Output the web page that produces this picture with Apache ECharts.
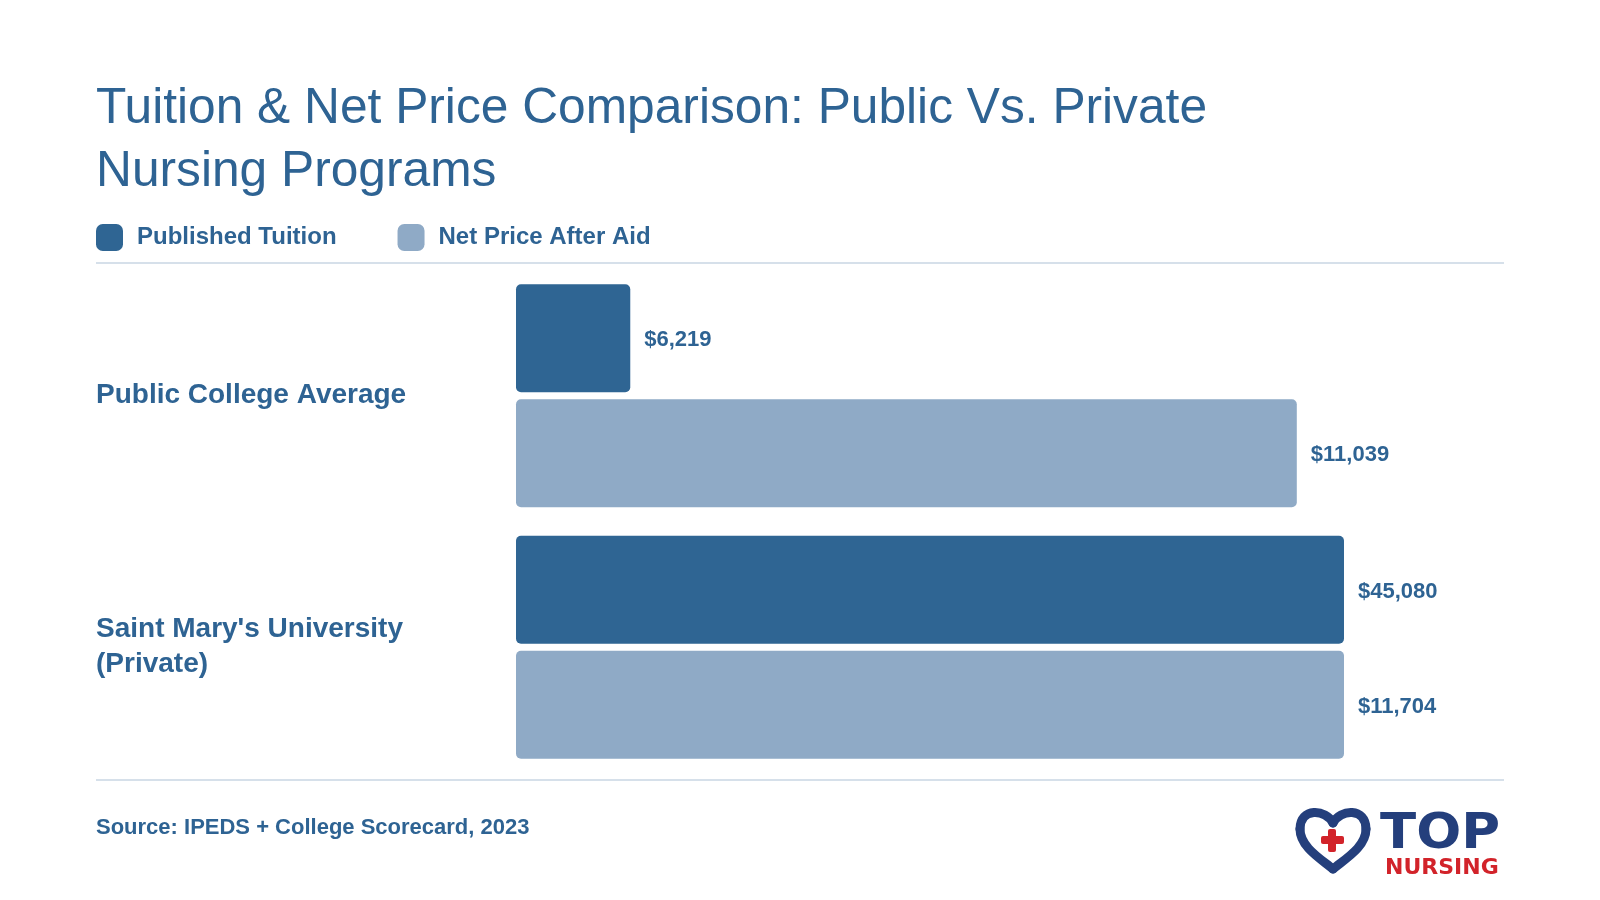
<!DOCTYPE html>
<html>
<head>
<meta charset="utf-8">
<script src="https://cdn.jsdelivr.net/npm/echarts@6/dist/echarts.min.js"></script>
<style>
  html, body { margin: 0; padding: 0; background: #fff; }
  #chart { width: 1600px; height: 900px; }
</style>
</head>
<body>
<div id="chart"></div>
<script>
// categories, top to bottom
var categories = ['Public College Average', "Saint Mary's University\n(Private)"];
// dollar values printed next to the bars
var tuitionValues = [6219, 45080];
var netPriceValues = [11039, 11704];
// bar lengths as drawn in the source graphic (share of the bar track, %)
var tuitionBarPct = [13.8, 100];
var netPriceBarPct = [94.3, 100];
var seriesNames = ['Published Tuition', 'Net Price After Aid'];

var textColor = '#2E6393';
var ruleColor = '#D6E0EA';
var logoBlue = '#243F7C';
var logoRed = '#D2232A';
var font = '"Liberation Sans", Arial, Helvetica, sans-serif';

function money(v) {
    return '$' + v.toLocaleString('en-US');
}

// heart outline for the logo, built from bezier curves
function heartCurve(ox, oy, p) {
    return {
        type: 'bezierCurve',
        shape: {
            x1: ox + p[0], y1: oy + p[1],
            cpx1: ox + p[2], cpy1: oy + p[3],
            cpx2: ox + p[4], cpy2: oy + p[5],
            x2: ox + p[6], y2: oy + p[7]
        },
        style: { stroke: logoBlue, lineWidth: 9, fill: null, lineCap: 'round' }
    };
}

var chart = echarts.init(document.getElementById('chart'));

var option = {
    backgroundColor: '#fff',
    animation: false,
    color: ['#2F6593', '#8FAAC6'],
    title: {
        text: 'Tuition & Net Price Comparison: Public Vs. Private\nNursing Programs',
        left: 91,
        top: 73,
        textStyle: {
            color: textColor,
            fontFamily: font,
            fontWeight: 'normal',
            fontSize: 49.7,
            lineHeight: 63
        }
    },
    legend: {
        left: 96,
        top: 224,
        padding: 0,
        icon: 'roundRect',
        itemWidth: 27,
        itemHeight: 27,
        itemGap: 61,
        textStyle: {
            color: textColor,
            fontFamily: font,
            fontWeight: 'bold',
            fontSize: 24,
            padding: [0, 0, 0, 9]
        },
        data: seriesNames
    },
    grid: {
        left: 516,
        top: 270,
        width: 828,
        height: 503,
        containLabel: false
    },
    xAxis: {
        type: 'value',
        min: 0,
        max: 100,
        show: false
    },
    yAxis: {
        type: 'category',
        inverse: true,
        data: categories,
        axisLine: { show: false },
        axisTick: { show: false },
        axisLabel: {
            margin: 420,
            align: 'left',
            color: textColor,
            fontFamily: font,
            fontWeight: 'bold',
            fontSize: 28,
            lineHeight: 35,
            padding: [6, 0, 0, 0]
        }
    },
    series: [
        {
            name: seriesNames[0],
            type: 'bar',
            barWidth: 108,
            barGap: '6.5%',
            itemStyle: { borderRadius: 5 },
            label: {
                show: true,
                position: 'right',
                distance: 14,
                offset: [0, 2],
                color: textColor,
                fontFamily: font,
                fontWeight: 'bold',
                fontSize: 22,
                formatter: function (p) { return money(tuitionValues[p.dataIndex]); }
            },
            data: tuitionBarPct
        },
        {
            name: seriesNames[1],
            type: 'bar',
            barWidth: 108,
            itemStyle: { borderRadius: 5 },
            label: {
                show: true,
                position: 'right',
                distance: 14,
                offset: [0, 2],
                color: textColor,
                fontFamily: font,
                fontWeight: 'bold',
                fontSize: 22,
                formatter: function (p) { return money(netPriceValues[p.dataIndex]); }
            },
            data: netPriceBarPct
        }
    ],
    graphic: [
        // rules above and below the bars
        { type: 'line', shape: { x1: 96, y1: 263, x2: 1504, y2: 263 }, style: { stroke: ruleColor, lineWidth: 2 } },
        { type: 'line', shape: { x1: 96, y1: 780, x2: 1504, y2: 780 }, style: { stroke: ruleColor, lineWidth: 2 } },
        {
            type: 'text',
            x: 96,
            y: 817,
            style: {
                text: 'Source: IPEDS + College Scorecard, 2023',
                fill: textColor,
                font: 'bold 22px ' + font
            }
        },
        // logo
        heartCurve(1296, 807, [37, 16, 30, 2, 4, 0, 4, 22]),
        heartCurve(1296, 807, [4, 22, 4, 40, 25, 52, 37, 62]),
        heartCurve(1296, 807, [37, 62, 49, 52, 70, 40, 70, 22]),
        heartCurve(1296, 807, [70, 22, 70, 0, 44, 2, 37, 16]),
        { type: 'rect', shape: { x: 1321, y: 836, width: 23, height: 8, r: 2 }, style: { fill: logoRed } },
        { type: 'rect', shape: { x: 1328, y: 829, width: 8, height: 23, r: 2 }, style: { fill: logoRed } },
        {
            type: 'text', x: 1380, y: 810, scaleX: 1.06,
            style: { text: 'TOP', fill: logoBlue, font: 'bold 50px "DejaVu Sans", sans-serif' }
        },
        {
            type: 'text', x: 1385, y: 857,
            style: { text: 'NURSING', fill: logoRed, font: 'bold 22px "DejaVu Sans", sans-serif' }
        }
    ]
};

chart.setOption(option);
</script>
</body>
</html>
